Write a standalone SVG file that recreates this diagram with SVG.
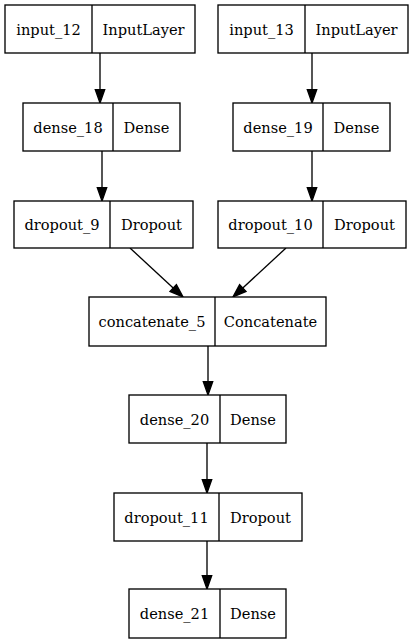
<svg xmlns="http://www.w3.org/2000/svg" width="413" height="644" viewBox="0 0 413 644">
<style>
rect{fill:#fff;stroke:#000;stroke-width:1.33}
.d{stroke:#000;stroke-width:1.33}
text{font-family:'DejaVu Serif',serif;font-size:14.6px;fill:#000;text-anchor:middle}
.e line{stroke:#000;stroke-width:1.33}
.e polygon{fill:#000;stroke:#000;stroke-width:1.33}
</style>
<rect x="0" y="0" width="413" height="644" style="stroke:none"/>
<g class="e" id="edges">
<line x1="100" y1="53" x2="100" y2="90"/><polygon points="95.3,89.7 104.7,89.7 100,103"/>
<line x1="312" y1="53" x2="312" y2="90"/><polygon points="307.3,89.7 316.7,89.7 312,103"/>
<line x1="102" y1="151" x2="102" y2="188"/><polygon points="97.3,187.7 106.7,187.7 102,201"/>
<line x1="312" y1="151" x2="312" y2="188"/><polygon points="307.3,187.7 316.7,187.7 312,201"/>
<line x1="130" y1="248" x2="173.2" y2="288"/><polygon points="170,291.4 176.4,284.6 183,297"/>
<line x1="286" y1="248" x2="242.8" y2="288"/><polygon points="246,291.4 239.6,284.6 233,297"/>
<line x1="208" y1="346" x2="208" y2="382"/><polygon points="203.3,381.7 212.7,381.7 208,395"/>
<line x1="207" y1="443" x2="207" y2="480"/><polygon points="202.3,479.7 211.7,479.7 207,493"/>
<line x1="207" y1="541" x2="207" y2="576"/><polygon points="202.3,575.7 211.7,575.7 207,589"/>
</g>
<g id="input_12"><rect x="5" y="5" width="190" height="48"/><line class="d" x1="92" y1="5" x2="92" y2="53"/><text x="48.5" y="34.5">input_12</text><text x="143.5" y="34.5">InputLayer</text></g>
<g id="input_13"><rect x="218" y="5" width="190" height="48"/><line class="d" x1="305" y1="5" x2="305" y2="53"/><text x="261.5" y="34.5">input_13</text><text x="356.5" y="34.5">InputLayer</text></g>
<g id="dense_18"><rect x="23" y="103" width="157" height="48"/><line class="d" x1="113" y1="103" x2="113" y2="151"/><text x="68" y="132.5">dense_18</text><text x="146.5" y="132.5">Dense</text></g>
<g id="dense_19"><rect x="233" y="103" width="157" height="48"/><line class="d" x1="323" y1="103" x2="323" y2="151"/><text x="278" y="132.5">dense_19</text><text x="356.5" y="132.5">Dense</text></g>
<g id="dropout_9"><rect x="14" y="201" width="179" height="47"/><line class="d" x1="110" y1="201" x2="110" y2="248"/><text x="62" y="229.5">dropout_9</text><text x="151.5" y="229.5">Dropout</text></g>
<g id="dropout_10"><rect x="218" y="201" width="188" height="47"/><line class="d" x1="323" y1="201" x2="323" y2="248"/><text x="270.5" y="229.5">dropout_10</text><text x="364.5" y="229.5">Dropout</text></g>
<g id="concatenate_5"><rect x="89" y="297" width="237" height="49"/><line class="d" x1="215" y1="297" x2="215" y2="346"/><text x="152" y="326.5">concatenate_5</text><text x="270.5" y="326.5">Concatenate</text></g>
<g id="dense_20"><rect x="129" y="395" width="157" height="48"/><line class="d" x1="220" y1="395" x2="220" y2="443"/><text x="174.5" y="424.5">dense_20</text><text x="253" y="424.5">Dense</text></g>
<g id="dropout_11"><rect x="114" y="493" width="188" height="48"/><line class="d" x1="219" y1="493" x2="219" y2="541"/><text x="166.5" y="522.5">dropout_11</text><text x="260.5" y="522.5">Dropout</text></g>
<g id="dense_21"><rect x="129" y="589" width="157" height="49"/><line class="d" x1="220" y1="589" x2="220" y2="638"/><text x="174.5" y="618.5">dense_21</text><text x="253" y="618.5">Dense</text></g>
</svg>
